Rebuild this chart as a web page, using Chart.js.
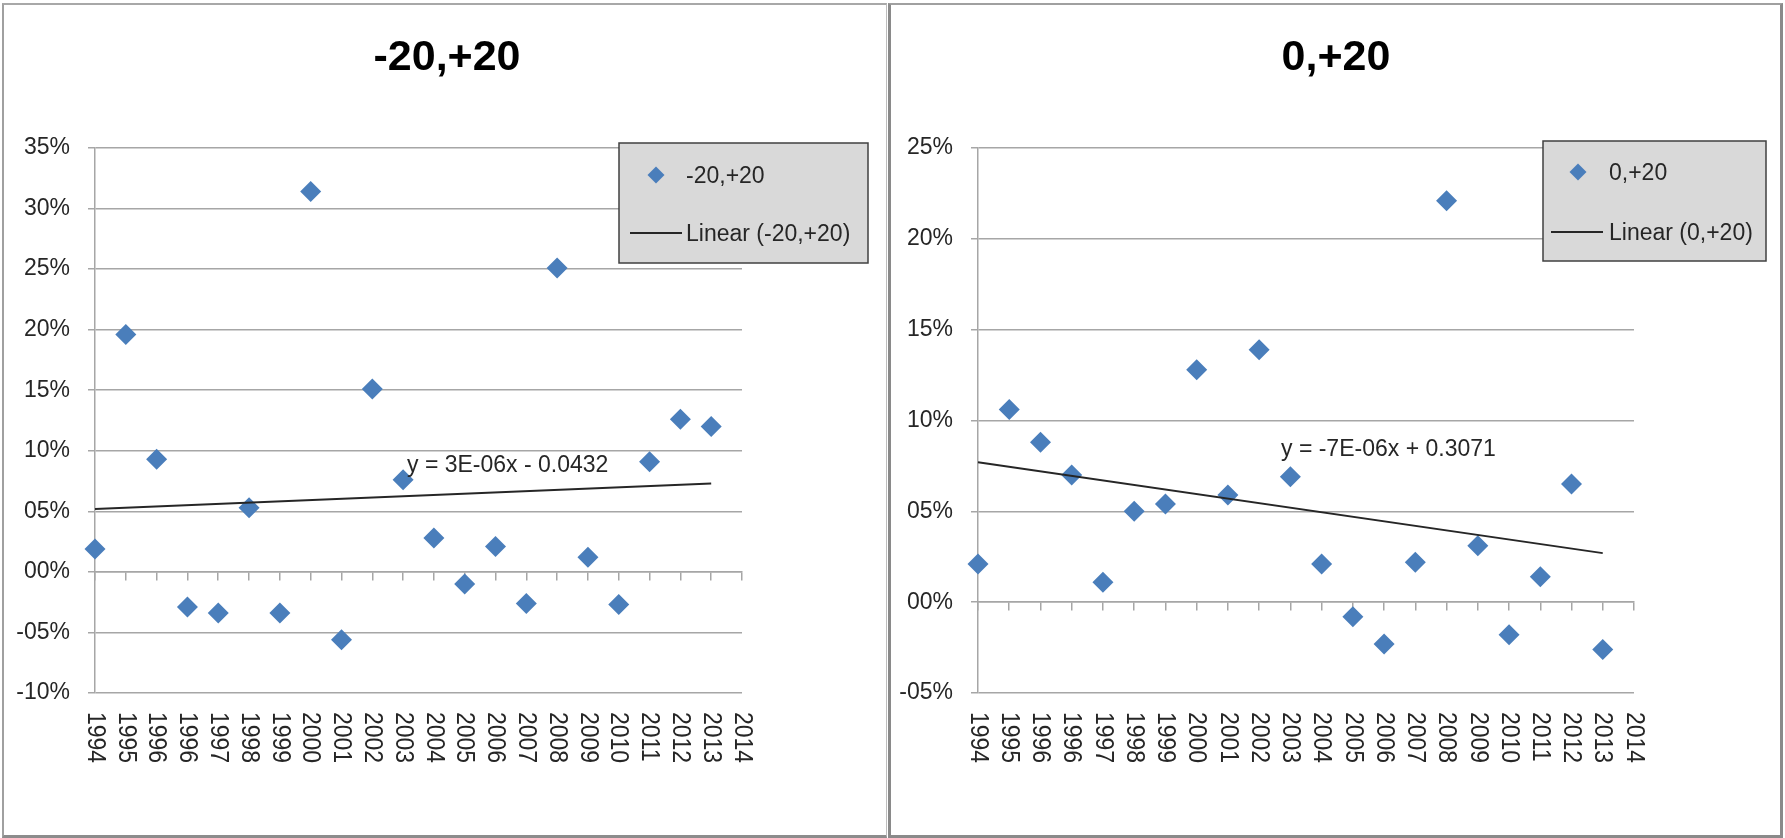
<!DOCTYPE html>
<html>
<head>
<meta charset="utf-8">
<script src="https://cdn.jsdelivr.net/npm/chart.js@4.4.1/dist/chart.umd.min.js"></script>
<style>
  html, body { margin: 0; padding: 0; background: #fff; }
  body { width: 1785px; height: 838px; position: relative; overflow: hidden; }
  canvas { position: absolute; top: 0; }
  #leftChart { left: 0; }
  #rightChart { left: 889px; }
  .frame { position: absolute; box-sizing: border-box; pointer-events: none; }
  #leftFrame { left: 2px; top: 3px; width: 885px; height: 835px;
    border-top: 2px solid #a8a8a8; border-left: 2px solid #a0a0a0;
    border-right: 1px solid #bdbdbd; border-bottom: 3px solid #8c8c8c; }
  #rightFrame { left: 888px; top: 3px; width: 895px; height: 835px;
    border: 3px solid #8a8a8a; border-top: 2px solid #a0a0a0; }
</style>
</head>
<body>
<canvas id="leftChart" width="887" height="838"></canvas>
<canvas id="rightChart" width="896" height="838"></canvas>
<div class="frame" id="leftFrame"></div>
<div class="frame" id="rightFrame"></div>
<script>
// tick labels of the date axis (Excel puts 1996 twice)
const tickYears = ['1994', '1995', '1996', '1996', '1997', '1998', '1999', '2000', '2001', '2002', '2003',
  '2004', '2005', '2006', '2007', '2008', '2009', '2010', '2011', '2012', '2013', '2014'];

// position of each observation along the date axis, in tick units
const pointPos = [0, 1, 2, 3, 4, 5, 6, 7, 8, 9, 10, 11, 12, 13, 14, 15, 16, 17, 18, 19, 20];

// -20,+20 (percent)
const leftValues = [1.9, 19.6, 9.3, -2.9, -3.4, 5.3, -3.4, 31.4, -5.6, 15.1, 7.6, 2.8, -1.0, 2.1, -2.6, 25.1, 1.2, -2.7, 9.1, 12.6, 12.0];
const leftTrend = [5.2, 7.3];
const leftYLabels = ['-10%', '-05%', '00%', '05%', '10%', '15%', '20%', '25%', '30%', '35%'];

// 0,+20 (percent)
const rightValues = [2.1, 10.6, 8.8, 7.0, 1.1, 5.0, 5.4, 12.8, 5.9, 13.9, 6.9, 2.1, -0.8, -2.3, 2.2, 22.1, 3.1, -1.8, 1.4, 6.5, -2.6];
const rightTrend = [7.7, 2.7];
const rightYLabels = ['-05%', '00%', '05%', '10%', '15%', '20%', '25%'];

const trendPos = [0, 20];

const FONT = '"Liberation Sans", Arial, sans-serif';
const GRID = '#a6a6a6';
const TEXT = '#262626';
const BLUE = '#4a7ebb';

/** titre, légende, équation et étiquettes de l'axe X dessinés à la main */
const excelDecor = {
  id: 'excelDecor',
  afterDraw(chart, args, o) {
    const { ctx, chartArea } = chart;
    const xs = chart.scales.x;
    ctx.save();

    ctx.fillStyle = '#000';
    ctx.font = 'bold 43px ' + FONT;
    ctx.textAlign = 'center';
    ctx.textBaseline = 'alphabetic';
    ctx.fillText(o.title, o.titleX, 70);

    // x labels read top to bottom
    ctx.fillStyle = TEXT;
    ctx.font = '23px ' + FONT;
    xs.ticks.forEach((t, i) => {
      ctx.save();
      ctx.translate(xs.getPixelForValue(t.value), chartArea.bottom + 19);
      ctx.rotate(Math.PI / 2);
      ctx.scale(1, 1.15);
      ctx.textAlign = 'left';
      ctx.textBaseline = 'middle';
      ctx.fillText(tickYears[i], 0, 0);
      ctx.restore();
    });

    ctx.textAlign = 'left';
    ctx.textBaseline = 'alphabetic';
    ctx.fillText(o.equation, o.eqX, o.eqY);

    const lg = o.legend;
    ctx.fillStyle = '#d9d9d9';
    ctx.fillRect(lg.x, lg.y, lg.w, lg.h);
    ctx.strokeStyle = '#404040';
    ctx.lineWidth = 1.5;
    ctx.strokeRect(lg.x, lg.y, lg.w, lg.h);

    const r = 8.5;
    ctx.fillStyle = BLUE;
    ctx.beginPath();
    ctx.moveTo(lg.markX - r, lg.markY);
    ctx.lineTo(lg.markX, lg.markY - r);
    ctx.lineTo(lg.markX + r, lg.markY);
    ctx.lineTo(lg.markX, lg.markY + r);
    ctx.closePath();
    ctx.fill();

    ctx.strokeStyle = TEXT;
    ctx.lineWidth = 2;
    ctx.beginPath();
    ctx.moveTo(lg.lineX1, lg.lineY);
    ctx.lineTo(lg.lineX2, lg.lineY);
    ctx.stroke();

    ctx.fillStyle = TEXT;
    ctx.fillText(o.name, lg.textX, lg.row1);
    ctx.fillText('Linear (' + o.name + ')', lg.textX, lg.row2);
    ctx.restore();
  }
};

const makeChart = function makeChart(id, values, trend, yLabels, yWidth, padding, decor) {
  const yMin = parseInt(yLabels[0], 10);
  const data = {
    datasets: [
      {
        label: 'Linear (' + decor.name + ')',
        data: trendPos.map((x, i) => ({ x, y: trend[i] })),
        showLine: true,
        borderColor: TEXT,
        borderWidth: 2,
        pointRadius: 0,
        clip: false
      },
      {
        label: decor.name,
        data: pointPos.map((x, i) => ({ x, y: values[i] })),
        pointStyle: 'rectRot',
        pointRadius: 10.5,
        backgroundColor: BLUE,
        borderColor: BLUE,
        borderWidth: 0,
        clip: false
      }
    ]
  };

  const options = {
    responsive: false,
    animation: false,
    layout: { padding },
    plugins: {
      legend: { display: false },
      tooltip: { enabled: false },
      excelDecor: decor
    },
    scales: {
      x: {
        type: 'linear',
        position: { y: 0 },
        min: 0,
        max: tickYears.length - 1,
        afterBuildTicks: s => { s.ticks = tickYears.map((_, i) => ({ value: i })); },
        ticks: { display: false },
        grid: { drawOnChartArea: false, tickLength: 8, color: GRID, lineWidth: 1.5 },
        border: { color: GRID, width: 1.5 }
      },
      y: {
        type: 'linear',
        position: 'left',
        min: yMin,
        max: yMin + 5 * (yLabels.length - 1),
        afterBuildTicks: s => { s.ticks = yLabels.map((_, i) => ({ value: yMin + 5 * i })); },
        afterFit: s => { s.width = yWidth; },
        ticks: {
          padding: 18,
          color: TEXT,
          font: { family: FONT, size: 23 },
          callback: (v, i) => yLabels[i]
        },
        grid: { color: GRID, lineWidth: 1.5, tickLength: 7 },
        border: { color: GRID, width: 1.5 }
      }
    }
  };

  return new Chart(document.getElementById(id), { type: 'scatter', data, options, plugins: [excelDecor] });
};

makeChart('leftChart', leftValues, leftTrend, leftYLabels, 95,
  { left: 0, right: 145, top: 148, bottom: 145 },
  {
    name: '-20,+20', title: '-20,+20', titleX: 447,
    equation: 'y = 3E-06x - 0.0432', eqX: 407, eqY: 472,
    legend: { x: 619, y: 143, w: 249, h: 120, markX: 656, markY: 175, textX: 686, row1: 183, row2: 241, lineX1: 630, lineX2: 682, lineY: 233 }
  });

makeChart('rightChart', rightValues, rightTrend, rightYLabels, 89,
  { left: 0, right: 151, top: 148, bottom: 145 },
  {
    name: '0,+20', title: '0,+20', titleX: 447,
    equation: 'y = -7E-06x + 0.3071', eqX: 392, eqY: 456,
    legend: { x: 654, y: 141, w: 223, h: 120, markX: 689, markY: 172, textX: 720, row1: 180, row2: 240, lineX1: 662, lineX2: 714, lineY: 232 }
  });
</script>
</body>
</html>
